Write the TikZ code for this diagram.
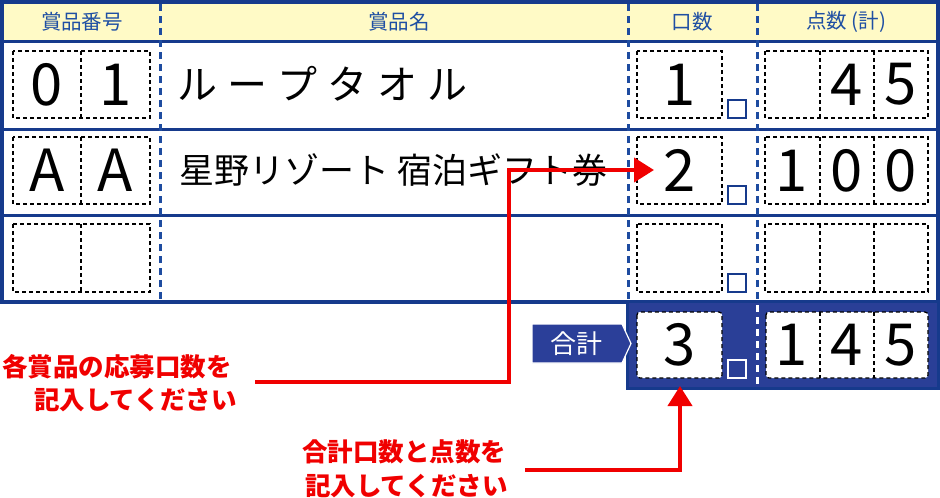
\documentclass[tikz,border=0pt]{standalone}
\usepackage{fontspec}
\setmainfont{Noto Sans CJK JP}
\usetikzlibrary{arrows.meta}
\definecolor{navy}{RGB}{22,58,140}
\definecolor{dblue}{RGB}{30,76,160}
\definecolor{hblue}{RGB}{31,79,163}
\definecolor{hyellow}{RGB}{255,250,198}
\definecolor{totfill}{RGB}{42,63,151}
\definecolor{lblfill}{RGB}{43,63,153}
\definecolor{redc}{RGB}{240,0,0}
\begin{document}
\begin{tikzpicture}[x=1pt,y=-1pt,
  tline/.style={draw=navy,line width=3pt},
  vdash/.style={draw=dblue,line width=3pt,dash pattern=on 7pt off 5pt},
  wdash/.style={draw=white,line width=3pt,dash pattern=on 7pt off 5pt},
  cellbox/.style={draw=black,line width=1.2pt,dash pattern=on 4pt off 3pt},
  unitsq/.style={draw=navy,line width=2pt},
  digit/.style={font=\fontsize{58}{58}\selectfont,inner sep=0pt},
  headtxt/.style={text=hblue,font=\fontsize{20.5}{20.5}\selectfont,inner sep=0pt},
  itemtxt/.style={font=\fontsize{40}{40}\selectfont,inner sep=0pt,anchor=west},
  redtxt/.style={text=redc,font=\fontsize{25.5}{25.5}\selectfont\bfseries,inner sep=0pt,anchor=west},
  redarrow/.style={draw=redc,line width=4pt,-{Triangle[length=20pt,width=24pt]}}
]
\useasboundingbox (0,0) rectangle (940,498);
% header band
\fill[hyellow] (2,2) rectangle (937,41);
% row lines
\draw[tline] (2,41) -- (937,41);
\draw[tline] (2,129) -- (937,129);
\draw[tline] (2,215.5) -- (937,215.5);
% dashed column separators
\foreach \cx in {160,628,757} { \draw[vdash] (\cx,4) -- (\cx,300); }
% outer frame
\draw[draw=navy,line width=4pt] (2,2) rectangle (937.5,302);
% header texts
\node[headtxt] (h1) at (82,22) {賞品番号};
\node[headtxt] (h2) at (399,22) {賞品名};
\node[headtxt] (h3) at (692,22) {口数};
\node[headtxt] (h4) at (846,22) {点数 (計)};
% cell boxes
\foreach \ya/\yb in {51/118,137/204,224/292} {
  \draw[cellbox] (13,\ya) rectangle (150,\yb);
  \draw[cellbox] (81,\ya) -- (81,\yb);
  \draw[cellbox] (637,\ya) rectangle (722,\yb);
  \draw[cellbox] (765,\ya) rectangle (928,\yb);
  \draw[cellbox] (820,\ya) -- (820,\yb);
  \draw[cellbox] (874,\ya) -- (874,\yb);
  \draw[unitsq] (728,\yb-18) rectangle (746,\yb);
}
% row 1
\node[digit] (n1a) at (47,84.5) {0};
\node[digit] (n1b) at (115.5,84.5) {1};
\node[itemtxt] (item1) at (177,84) {ル\hspace{10pt}ー\hspace{10pt}プ\hspace{10pt}タ\hspace{10pt}オ\hspace{10pt}ル};
\node[digit] (q1) at (680,84.5) {1};
\node[digit] (p1b) at (847,84.5) {4};
\node[digit] (p1c) at (901,84.5) {5};
% row 2
\node[itemtxt,font=\fontsize{35}{35}\selectfont] (item2) at (179,170) {星野リゾート 宿泊ギフト券};
\node[digit] (n2a) at (47,170.5) {A};
\node[digit] (n2b) at (115.5,170.5) {A};
\node[digit] (q2) at (680,170.5) {2};
\node[digit] (p2a) at (792,170.5) {1};
\node[digit] (p2b) at (847,170.5) {0};
\node[digit] (p2c) at (901,170.5) {0};
% totals
\draw[fill=totfill,draw=navy,line width=3pt] (627,301) rectangle (938,388);
\draw[wdash] (757,305) -- (757,386);
\draw[cellbox,fill=white,rounded corners=3pt] (637,312) rectangle (722,378);
\draw[cellbox,fill=white,rounded corners=3pt] (766,312) rectangle (928,378);
\draw[cellbox] (820,312) -- (820,378);
\draw[cellbox] (874,312) -- (874,378);
\draw[draw=white,line width=2pt] (728,360) rectangle (746,378);
\node[digit] (qt) at (680,345) {3};
\node[digit] (pta) at (792,345) {1};
\node[digit] (ptb) at (847,345) {4};
\node[digit] (ptc) at (901,345) {5};
% label
\draw[fill=lblfill,draw=white,line width=1.2pt] (532,324) -- (622,324) -- (631,343.5) -- (622,363) -- (532,363) -- cycle;
\node[text=white,font=\fontsize{26}{26}\selectfont,inner sep=0pt] (lbl) at (576,344) {合計};
% red notes
\node[redtxt] (t1a) at (2,366.5) {各賞品の応募口数を};
\node[redtxt] (t1b) at (34,400) {記入してください};
\node[redtxt] (t2a) at (302,451.5) {合計口数と点数を};
\node[redtxt] (t2b) at (305,486.5) {記入してください};
% red arrows
\coordinate (a1s) at (255,382);
\coordinate (a1c) at (509,382);
\coordinate (a1t) at (654,170);
\draw[redarrow] (a1s) -- (a1c) |- (a1t);
\coordinate (a2s) at (525,470);
\coordinate (a2t) at (680,386);
\draw[redarrow] (a2s) -| (a2t);
\end{tikzpicture}
\end{document}
